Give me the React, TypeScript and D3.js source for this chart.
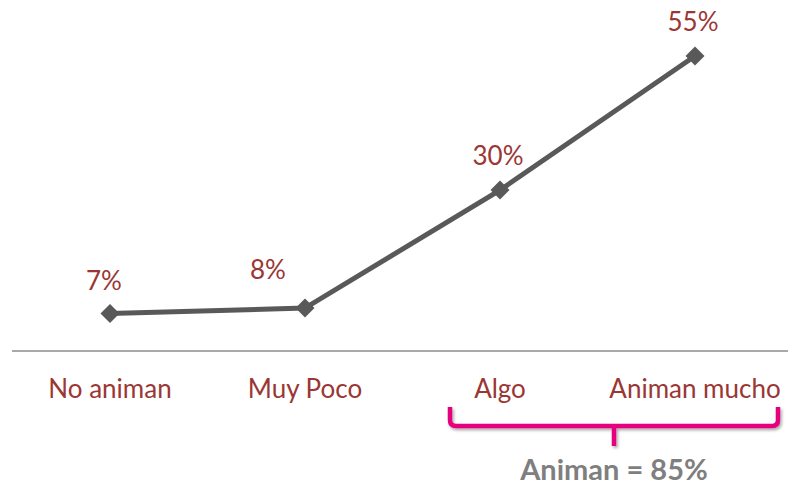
import React, { useEffect, useRef } from 'react';
import * as d3 from 'd3';

const categories = ['No animan', 'Muy Poco', 'Algo', 'Animan mucho'];
const values = [7, 8, 30, 55];
const valueLabels = ['7%', '8%', '30%', '55%'];
const braceCategories = ['Algo', 'Animan mucho'];
const braceLabel = 'Animan = 85%';

const App: React.FC = () => {
  const svgRef = useRef<SVGSVGElement>(null);

  useEffect(() => {
    if (!svgRef.current) return;
    const width = 788;
    const height = 486;
    const svg = d3.select(svgRef.current);
    svg.selectAll('*').remove();
    svg.attr('width', width).attr('height', height);

    const font = 'Lato, "Open Sans", sans-serif';
    const red = '#9A3734';
    const lineColor = '#595959';

    const x = d3.scaleBand<string>()
      .domain(categories)
      .range([12.5, 792.5]);
    const cx = (c: string) => (x(c) || 0) + x.bandwidth() / 2;

    const y = d3.scaleLinear()
      .domain([0, 55])
      .range([351, 56]);

    // axis line
    svg.append('line')
      .attr('x1', 12).attr('x2', 788)
      .attr('y1', y(0)).attr('y2', y(0))
      .style('stroke', '#8C8C8C')
      .style('stroke-width', 1.5);

    // category labels
    svg.selectAll('.cat')
      .data(categories)
      .enter().append('text')
      .attr('class', 'cat')
      .attr('x', d => cx(d))
      .attr('y', 398)
      .attr('text-anchor', 'middle')
      .style('font-family', font)
      .style('font-size', '26px')
      .style('fill', red)
      .text(d => d);

    const pts = categories.map((c, i) => [cx(c), y(values[i])] as [number, number]);

    svg.append('path')
      .datum(pts)
      .attr('d', d3.line())
      .style('fill', 'none')
      .style('stroke', lineColor)
      .style('stroke-width', 5);

    const sym = d3.symbol().type(d3.symbolDiamond2).size(230);
    svg.selectAll('.marker')
      .data(pts)
      .enter().append('path')
      .attr('class', 'marker')
      .attr('transform', d => `translate(${d[0]},${d[1]})`)
      .attr('d', sym)
      .style('fill', lineColor);

    // value labels (the 8% one sits left of its point)
    const labelDx = [-6, -37, -2, -2];
    const labelDy = [-23, -29, -25, -25];
    svg.selectAll('.val')
      .data(pts)
      .enter().append('text')
      .attr('class', 'val')
      .attr('x', (d, i) => d[0] + labelDx[i])
      .attr('y', (d, i) => d[1] + labelDy[i])
      .attr('text-anchor', 'middle')
      .style('font-family', font)
      .style('font-size', '26px')
      .style('fill', red)
      .text((_, i) => valueLabels[i]);

    // brace
    const left = cx(braceCategories[0]) - 50;
    const right = cx(braceCategories[1]) + 83;
    const mid = (left + right) / 2;
    const top = 407;
    const bar = 426;
    const r = 6;
    const bracePath = `M${left},${top} L${left},${bar - r} Q${left},${bar} ${left + r},${bar} ` +
      `L${right - r},${bar} Q${right},${bar} ${right},${bar - r} L${right},${top} ` +
      `M${mid},${bar} L${mid},${bar + 20}`;

    const defs = svg.append('defs');
    const filt = defs.append('filter').attr('id', 'shadow').attr('x', '-10%').attr('y', '-50%').attr('width', '120%').attr('height', '200%');
    filt.append('feDropShadow').attr('dx', 1.5).attr('dy', 2).attr('stdDeviation', 1.5).attr('flood-color', '#000').attr('flood-opacity', 0.35);

    svg.append('path')
      .attr('d', bracePath)
      .attr('filter', 'url(#shadow)')
      .style('fill', 'none')
      .style('stroke', '#E5007D')
      .style('stroke-width', 4.5)
      .style('stroke-linejoin', 'round');

    svg.append('text')
      .attr('x', mid)
      .attr('y', 480)
      .attr('text-anchor', 'middle')
      .style('font-family', font)
      .style('font-size', '29px')
      .style('font-weight', 'bold')
      .style('fill', '#7F7F7F')
      .text(braceLabel);
  }, []);

  return (
    <div style={{ position: 'absolute', left: 0, top: 0 }}>
      <svg ref={svgRef} style={{ display: 'block' }} />
    </div>
  );
};

export default App;
